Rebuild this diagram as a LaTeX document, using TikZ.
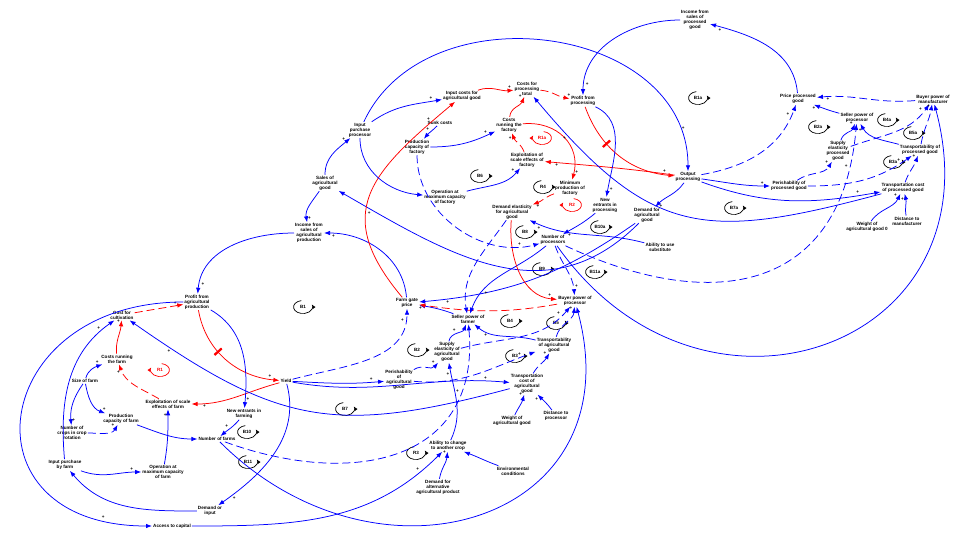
\documentclass[tikz,border=0pt]{standalone}
\usepackage{fontspec}
\setmainfont{Liberation Sans}
\usetikzlibrary{arrows.meta}
\newcommand{\varsize}{\fontsize{4.6}{4.9}\selectfont\bfseries}
\newcommand{\signsize}{\fontsize{4.6}{4.6}\selectfont\bfseries}
\tikzset{
    var/.style={font=\varsize, align=center, inner sep=1pt},
    bl/.style={blue, line width=.75pt, -{Latex[length=6pt,width=4.5pt]}},
    bld/.style={bl, dash pattern=on 8pt off 4pt},
    rd/.style={bl, red},
    rdd/.style={rd, dash pattern=on 8pt off 4pt},
    sg/.style={font=\signsize, text=black, inner sep=1pt, pos=.9, auto},
    delay/.style={draw=red, fill=red, minimum width=1.5pt, minimum height=9pt, inner sep=0pt, sloped, pos=.35},
    looptext/.style={font=\varsize, inner sep=0pt},
    loopline/.style={line width=.7pt, -{Latex[length=4.5pt,width=3.5pt]}}
}
\newcommand{\loopmark}[3]{%
    \node[looptext] (#1) at #2 {#3};
    \draw[loopline] (#1) ++(100:9.5 and 6.5) arc (100:385:9.5 and 6.5);}
\newcommand{\redloop}[3]{%
    \node[looptext, red] (#1) at #2 {#3};
    \draw[loopline, red] (#1) ++(80:9.5 and 6.5) arc (80:-205:9.5 and 6.5);}

\begin{document}
\begin{tikzpicture}[x=1pt,y=1pt]
    \useasboundingbox (0,0) rectangle (977,-542);

    % farm
    \node[var] (incomeAgr) at (309,-233) {Income from\\sales of\\agricultural\\production};
    \node[var] (salesAgr) at (325,-183) {Sales of\\agricultural\\good};
    \node[var] (inputProc) at (360,-130) {Input\\purchase\\processor};
    \node[var] (profitAgr) at (197,-302) {Profit from\\agricultural\\production};
    \node[var] (costCult) at (122,-315) {Cost for\\cultivation};
    \node[var] (costsFarm) at (117,-359) {Costs running\\the farm};
    \node[var] (sizeFarm) at (85,-381) {Size of farm};
    \node[var] (nCrops) at (72,-433) {Number of\\crops in crop\\rotation};
    \node[var] (capFarm) at (121,-419) {Production\\capacity of farm};
    \node[var] (explFarm) at (168,-404) {Exploitation of scale\\effects of farm};
    \node[var] (newFarm) at (244,-414) {New entrants in\\farming};
    \node[var] (nFarms) at (217,-439) {Number of farms};
    \node[var] (inputFarm) at (65,-465) {Input purchase\\by farm};
    \node[var] (opFarm) at (163,-472) {Operation at\\maximum capacity\\of farm};
    \node[var] (demInput) at (210,-511) {Demand or\\input};
    \node[var] (access) at (172,-526) {Access to capital};
    \node[var] (yield) at (286,-381) {Yield};

    % agricultural good
    \node[var] (farmGate) at (407,-303) {Farm gate\\price};
    \node[var] (sellerFarm) at (468,-319) {Seller power of\\farmer};
    \node[var] (buyerProc) at (575,-301) {Buyer power of\\processor};
    \node[var] (supplyEl) at (447,-352) {Supply\\elasticity of\\agricultural\\good};
    \node[var] (perishAgr) at (399,-380) {Perishability\\of\\agricultural\\good};
    \node[var] (transpAgr) at (554,-345) {Transportability\\of agricultural\\good};
    \node[var] (transpCostAgr) at (527,-384) {Transportation\\cost of\\agricultural\\good};
    \node[var] (weightAgr) at (512,-421) {Weight of\\agricultural good};
    \node[var] (distProc) at (556,-416) {Distance to\\processor};
    \node[var] (abilityChange) at (448,-446) {Ability to change\\to another crop};
    \node[var] (demandAlt) at (438,-487) {Demand for\\alternative\\agricultural product};
    \node[var] (env) at (513,-471) {Environmental\\conditions};

    % processor
    \node[var] (inputCosts) at (462,-96) {Input costs for\\agricultural good};
    \node[var] (costsTotal) at (527,-89) {Costs for\\processing\\total};
    \node[var] (profitProc) at (583,-101) {Profit from\\processing};
    \node[var] (sunk) at (440,-123) {Sunk costs};
    \node[var] (capFact) at (417,-147) {Production\\capacity of\\factory};
    \node[var] (costsFact) at (509,-125) {Costs\\running the\\factory};
    \node[var] (explFact) at (527,-160) {Exploitation of\\scale effects of\\factory};
    \node[var] (opFact) at (445,-197) {Operation at\\maximum capacity\\of factory};
    \node[var] (minProd) at (570,-188) {Minimum\\production of\\factory};
    \node[var] (demandEl) at (512,-212) {Demand elasticity\\for agricultural\\good};
    \node[var] (newProc) at (605,-205) {New\\entrants in\\processing};
    \node[var] (nProc) at (553,-240) {Number of\\processors};
    \node[var] (abilitySub) at (660,-247) {Ability to use\\substitute};
    \node[var] (demandAgr) at (647,-215) {Demand for\\agricultural\\good};
    \node[var] (outputProc) at (688,-177) {Output\\processing};

    % processed good
    \node[var] (incomeProc) at (695,-20) {Income from\\sales of\\processed\\good};
    \node[var] (priceProc) at (798,-99) {Price processed\\good};
    \node[var] (buyerManu) at (933,-99) {Buyer power of\\manufacturer};
    \node[var] (sellerProc) at (857,-118) {Seller power of\\processor};
    \node[var] (supplyElProc) at (838,-151) {Supply\\elasticity\\processed\\good};
    \node[var] (transpProc) at (920,-150) {Transportability of\\processed good};
    \node[var] (perishProc) at (789,-186) {Perishability of\\processed good};
    \node[var] (transpCostProc) at (903,-188) {Transportation cost\\of processed good};
    \node[var] (weightProc) at (867,-227) {Weight of\\agricultural good 0};
    \node[var] (distManu) at (907,-221) {Distance to\\manufacturer};

    % loops
    \loopmark{lB1}{(303,-307)}{B1}
    \redloop{lR1}{(160,-370)}{R1}
    \loopmark{lB10}{(247,-432)}{B10}
    \loopmark{lB11}{(248,-462)}{B11}
    \loopmark{lB2}{(417,-350)}{B2}
    \loopmark{lB3}{(515,-356)}{B3}
    \loopmark{lR3}{(416,-453)}{R3}
    \loopmark{lB4}{(510,-321)}{B4}
    \loopmark{lB5}{(556,-323)}{B5}
    \loopmark{lB7}{(345,-409)}{B7}
    \loopmark{lB6}{(480,-176)}{B6}
    \redloop{lR1a}{(542,-138)}{R1a}
    \loopmark{lR4}{(543,-187)}{R4}
    \redloop{lR2}{(572,-205)}{R2}
    \loopmark{lB8}{(525,-232)}{B8}
    \loopmark{lB9}{(542,-269)}{B9}
    \loopmark{lB10a}{(600,-227)}{B10a}
    \loopmark{lB11a}{(595,-272)}{B11a}
    \loopmark{lB1a}{(698,-98)}{B1a}
    \loopmark{lB2a}{(818,-127)}{B2a}
    \loopmark{lB4a}{(887,-120)}{B4a}
    \loopmark{lB5a}{(913,-133)}{B5a}
    \loopmark{lB3a}{(893,-162)}{B3a}
    \loopmark{lB7a}{(734,-208)}{B7a}

    % farm links
    \draw[bl] (incomeAgr) to[out=180,in=85] node[sg]{+} (profitAgr);
    \draw[bl] (salesAgr) to[out=235,in=100] node[sg]{+} (incomeAgr);
    \draw[bl] (salesAgr) to[out=90,in=220] node[sg]{+} (inputProc);
    \draw[bl] (farmGate) to[out=95,in=0] node[sg]{+} (incomeAgr);
    \draw[bl] (demandAgr) to[out=225,in=-30,looseness=1.1] node[sg]{+} (salesAgr);
    \draw[rdd] (costCult) to[out=10,in=190] node[sg]{+} (profitAgr);
    \draw[rd] (costsFarm) to[out=95,in=265] node[sg]{+} (costCult);
    \draw[rdd] (explFarm) to[out=150,in=-70] node[sg]{+} (costsFarm);
    \draw[rd] (yield) to[out=195,in=0] node[sg]{+} (explFarm);
    \draw[rd] (profitAgr) to[out=-80,in=175] node[delay,pos=.4]{} node[sg]{+} (yield);
    \draw[bl] (profitAgr) to[out=-30,in=85] node[sg]{+} (newFarm);
    \draw[bl] (newFarm) to[out=230,in=40] node[sg,pos=.55,swap]{+} (nFarms);
    \draw[bl] (sizeFarm) to[out=75,in=200] node[sg]{+} (costsFarm);
    \draw[bl] (sizeFarm) to[out=235,in=95] node[sg]{+} (nCrops);
    \draw[bl] (sizeFarm) to[out=280,in=160] node[sg]{+} (capFarm);
    \draw[bld] (nCrops) to[out=0,in=240] node[sg]{+} (capFarm);
    \draw[bl] (capFarm) to[out=-20,in=180] (nFarms);
    \draw[bl] (inputFarm) to[out=95,in=215] node[sg]{+} (costCult);
    \draw[bl] (inputFarm) to[out=-20,in=180] node[sg]{+} (opFarm);
    \draw[bl] (opFarm) to[out=80,in=270] node[sg]{+} (explFarm);
    \draw[bl] (demInput) to[out=180,in=-50] (inputFarm);
    \draw[bl] (yield) to[out=-75,in=35] node[sg]{+} (demInput);
    \draw[bl] (profitAgr) to[out=180,in=180,looseness=2.2] node[sg]{+} (access);
    \draw[bl] (access) to[out=0,in=225] node[sg]{+} (abilityChange);
    \draw[bl] (nFarms) to[out=-45,in=-75,looseness=1.5] (buyerProc);
    \draw[bld] (nFarms) to[out=-20,in=-85,looseness=1.3] node[sg,pos=.8]{+} (sellerFarm);
    \draw[bl] (transpCostAgr) to[out=195,in=-35,looseness=1.2] node[sg]{+} (costCult);

    % agricultural good links
    \draw[bld] (yield) to[out=15,in=270] node[sg]{+} (farmGate);
    \draw[bl] (yield) to[out=-3,in=185] node[sg]{+} (perishAgr);
    \draw[bl] (yield) to[out=-10,in=175] node[sg]{+} (transpCostAgr);
    \draw[bld] (perishAgr) to[out=35,in=230] node[sg]{+} (supplyEl);
    \draw[bld] (perishAgr) to[out=-5,in=200] node[sg]{+} (transpAgr);
    \draw[bl] (supplyEl) to[out=80,in=250] node[sg,pos=.5]{+} (sellerFarm);
    \draw[bld] (supplyEl) to[out=15,in=230] node[sg]{+} (buyerProc);
    \draw[bl] (transpAgr) to[out=165,in=-40] node[sg,pos=.75]{+} (sellerFarm);
    \draw[bld] (transpAgr) to[out=75,in=265] node[sg]{+} (buyerProc);
    \draw[bld] (transpCostAgr) to[out=60,in=240] node[sg]{+} (transpAgr);
    \draw[bl] (weightAgr) to[out=65,in=255] node[sg]{+} (transpCostAgr);
    \draw[bl] (distProc) to[out=125,in=-45] node[sg]{+} (transpCostAgr);
    \draw[bl] (abilityChange) to[out=65,in=-80] node[sg]{+} (supplyEl);
    \draw[bl] (demandAlt) to[out=80,in=265] node[sg]{+} (abilityChange);
    \draw[bl] (env) to[out=160,in=-20] (abilityChange);
    \draw[bl] (sellerFarm) to[out=160,in=-10] node[sg]{+} (farmGate);
    \draw[rdd] (buyerProc) to[out=190,in=-8] (farmGate);
    \draw[bl] (demandAgr) to[out=215,in=5] node[sg]{+} (farmGate);
    \draw[rd] (farmGate) to[out=130,in=220,looseness=1.4] node[sg]{+} (inputCosts);
    \draw[bl] (nProc) to[out=220,in=70] node[sg,pos=.75]{+} (sellerFarm);
    \draw[bld] (demandEl) to[out=235,in=100] (sellerFarm);
    \draw[rd] (demandEl) to[out=265,in=175] node[sg]{+} (buyerProc);
    \draw[bld] (nProc) to[out=-70,in=95] node[sg]{+} (buyerProc);

    % processor links
    \draw[bl] (inputProc) to[out=35,in=190] node[sg]{+} (inputCosts);
    \draw[bl] (inputProc) to[out=65,in=90,looseness=1.15] node[sg]{+} (outputProc);
    \draw[bl] (inputProc) to[out=-90,in=175] (opFact);
    \draw[bl] (sunk) to[out=225,in=50] node[sg,pos=.5,swap]{+} (capFact);
    \draw[bl] (capFact) to[out=0,in=205] node[sg]{+} (costsFact);
    \draw[bld] (capFact) to[out=270,in=195] node[sg]{+} (nProc);
    \draw[bl] (opFact) to[out=15,in=230] node[sg]{+} (explFact);
    \draw[rdd] (explFact) to[out=110,in=290] node[sg]{+} (costsFact);
    \draw[rd] (costsFact) to[out=85,in=250] node[sg]{+} (costsTotal);
    \draw[rd] (inputCosts) to[out=20,in=185] node[sg]{+} (costsTotal);
    \draw[rdd] (costsTotal) to[out=-5,in=170] node[sg]{+} (profitProc);
    \draw[rd] (costsFact) to[out=5,in=75,looseness=1.2] node[sg]{+} (minProd);
    \draw[rdd] (minProd) to[out=200,in=20] node[sg]{+} (demandEl);
    \draw[rd] (profitProc) to[out=-70,in=175] node[delay]{} node[sg]{+} (outputProc);
    \draw[rd] (outputProc) to[out=172,in=-5] node[sg]{+} (explFact);
    \draw[bl] (profitProc) to[out=-25,in=80] node[sg]{+} (newProc);
    \draw[bl] (newProc) to[out=220,in=30] node[sg]{+} (nProc);
    \draw[bl] (abilitySub) to[out=165,in=-25] node[sg]{+} (demandEl);
    \draw[bl] (incomeProc) to[out=180,in=90] node[sg]{+} (profitProc);
    \draw[bl] (priceProc) to[out=95,in=-15] node[sg]{+} (incomeProc);
    \draw[bld] (outputProc) to[out=10,in=250] node[sg]{+} (priceProc);
    \draw[bl] (outputProc) to[out=235,in=45] node[sg]{+} (demandAgr);
    \draw[bl] (outputProc) to[out=-8,in=180] node[sg]{+} (perishProc);
    \draw[bl] (outputProc) to[out=-20,in=190] node[sg]{+} (transpCostProc);
    \draw[bl] (transpCostProc) to[out=195,in=-50,looseness=1.3] node[sg]{+} (costsTotal);
    \draw[bl] (nProc) to[out=-55,in=-75,looseness=1.6] (buyerManu);
    \draw[bld] (nProc) to[out=-25,in=265,looseness=1.35] node[sg]{+} (sellerProc);

    % processed good links
    \draw[bl] (sellerProc) to[out=165,in=-20] node[sg]{+} (priceProc);
    \draw[bld] (buyerManu) to[out=185,in=5] node[sg]{+} (priceProc);
    \draw[bl] (supplyElProc) to[out=75,in=250] node[sg]{+} (sellerProc);
    \draw[bld] (supplyElProc) to[out=20,in=235] node[sg]{+} (buyerManu);
    \draw[bld] (perishProc) to[out=35,in=240] node[sg]{+} (supplyElProc);
    \draw[bld] (perishProc) to[out=0,in=215] node[sg]{+} (transpProc);
    \draw[bl] (transpProc) to[out=165,in=-60] node[sg]{+} (sellerProc);
    \draw[bld] (transpProc) to[out=80,in=260] node[sg]{+} (buyerManu);
    \draw[bld] (transpCostProc) to[out=70,in=250] node[sg]{+} (transpProc);
    \draw[bl] (weightProc) to[out=55,in=245] node[sg]{+} (transpCostProc);
    \draw[bl] (distManu) to[out=100,in=285] node[sg]{+} (transpCostProc);
\end{tikzpicture}
\end{document}
